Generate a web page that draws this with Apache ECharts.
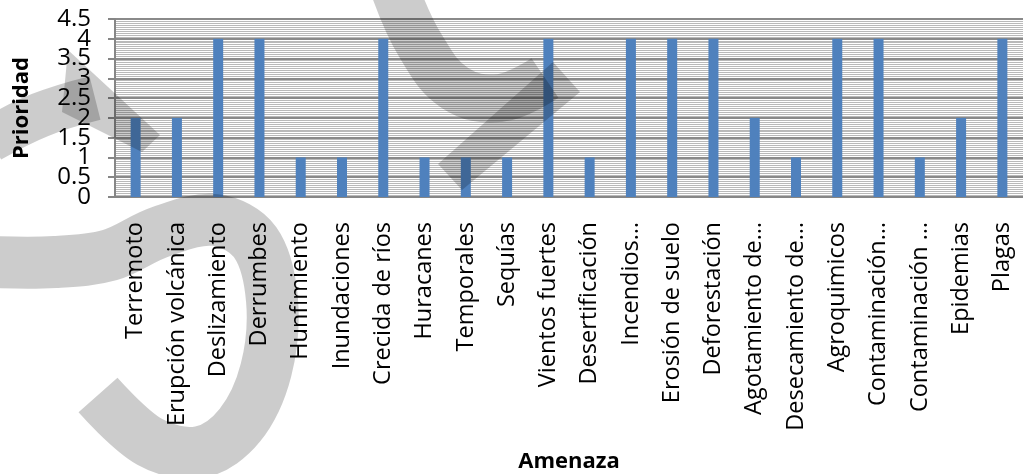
<!DOCTYPE html>
<html>
<head>
<meta charset="utf-8">
<script src="https://cdn.jsdelivr.net/npm/echarts@6/dist/echarts.min.js"></script>
<style>
html,body{margin:0;padding:0;background:#fff;}
#chart{width:1023px;height:474px;}
</style>
</head>
<body>
<div id="chart"></div>
<script>
const categories = ["Terremoto","Erupción volcánica","Deslizamiento","Derrumbes","Hunfimiento","Inundaciones","Crecida de ríos","Huracanes","Temporales","Sequías","Vientos fuertes","Desertificación","Incendios…","Erosión de suelo","Deforestación","Agotamiento de…","Desecamiento de…","Agroquimicos","Contaminación…","Contaminación …","Epidemias","Plagas"];
const prioridad = [2,2,4,4,1,1,4,1,1,1,4,1,4,4,4,2,1,4,4,1,2,4];
const yTicks = [0,0.5,1,1.5,2,2.5,3,3.5,4,4.5];

const FONT = '"Open Sans", sans-serif';
const WM = 'rgba(0,0,0,0.2)';
const yMin = yTicks[0], yMax = yTicks[yTicks.length-1];
const labelBase = {margin:24, fontFamily:FONT, fontSize:24, color:'#000', showMinLabel:true, showMaxLabel:true, hideOverlap:false};
const chart = echarts.init(document.getElementById('chart'), null, {renderer:'canvas'});
chart.setOption({
  animation:false,
  backgroundColor:'#fff',
  grid:{left:115, right:-7, top:19, bottom:277, containLabel:false},
  xAxis:{
    type:'category',
    data:categories,
    name:'Amenaza',
    nameLocation:'middle',
    nameGap:254,
    nameTextStyle:{fontFamily:FONT, fontWeight:'bold', fontSize:22, color:'#000'},
    axisLine:{lineStyle:{color:'#868686', width:2}},
    axisTick:{show:false},
    axisLabel:{rotate:90, margin:25, interval:0, fontFamily:FONT, fontSize:23.5, color:'#000', hideOverlap:false},
    splitLine:{show:false}
  },
  yAxis:[{
    type:'value',
    min:yMin, max:yMax, interval:0.5,
    name:'Prioridad',
    nameLocation:'middle',
    nameGap:82,
    nameTextStyle:{fontFamily:FONT, fontWeight:'bold', fontSize:22, color:'#000'},
    axisLine:{show:true, lineStyle:{color:'#868686', width:2}},
    axisTick:{show:true, length:7, lineStyle:{color:'#868686', width:2}},
    axisLabel:Object.assign({}, labelBase, {formatter:v=>(Math.round(v*2)%2===0 ? String(v) : '')}),
    splitLine:{show:true, lineStyle:{color:'#8a8a8a', width:2}},
    minorTick:{show:false, splitNumber:10},
    minorSplitLine:{show:true, lineStyle:{color:'#b9b9b9', width:1}}
  },{
    type:'value',
    position:'left',
    min:yMin, max:yMax, interval:0.5,
    axisLine:{show:false},
    axisTick:{show:false},
    axisLabel:Object.assign({}, labelBase, {formatter:v=>(Math.round(v*2)%2===1 ? String(v) : '')}),
    splitLine:{show:false},
    minorSplitLine:{show:false}
  }],
  series:[{
    type:'bar',
    data:prioridad,
    barWidth:10,
    yAxisIndex:0,
    itemStyle:{color:'#4F81BD'},
    z:3
  }],
  graphic:[
    {type:'polyline', z:100, silent:true, shape:{smooth:0.35, points:[[-10,262],[55,262],[110,255],[160,232],[215,220],[255,242],[272,300],[266,370],[240,425],[200,452],[150,442],[98,395]]}, style:{fill:null, stroke:WM, lineWidth:52}},
    {type:'polyline', z:100, silent:true, shape:{smooth:0.4, points:[[395,-10],[420,45],[455,88],[500,98],[545,78]]}, style:{fill:null, stroke:WM, lineWidth:48}},
    {type:'polygon', z:100, silent:true, shape:{points:[[580,92],[553,62],[438,164],[462,190]]}, style:{fill:WM}},
    {type:'polyline', z:100, silent:true, shape:{smooth:0.4, points:[[-10,140],[40,115],[95,98]]}, style:{fill:null, stroke:WM, lineWidth:45}},
    {type:'polygon', z:100, silent:true, shape:{points:[[68,50],[160,135],[142,152],[62,112]]}, style:{fill:WM}}
  ]
});
</script>
</body>
</html>
